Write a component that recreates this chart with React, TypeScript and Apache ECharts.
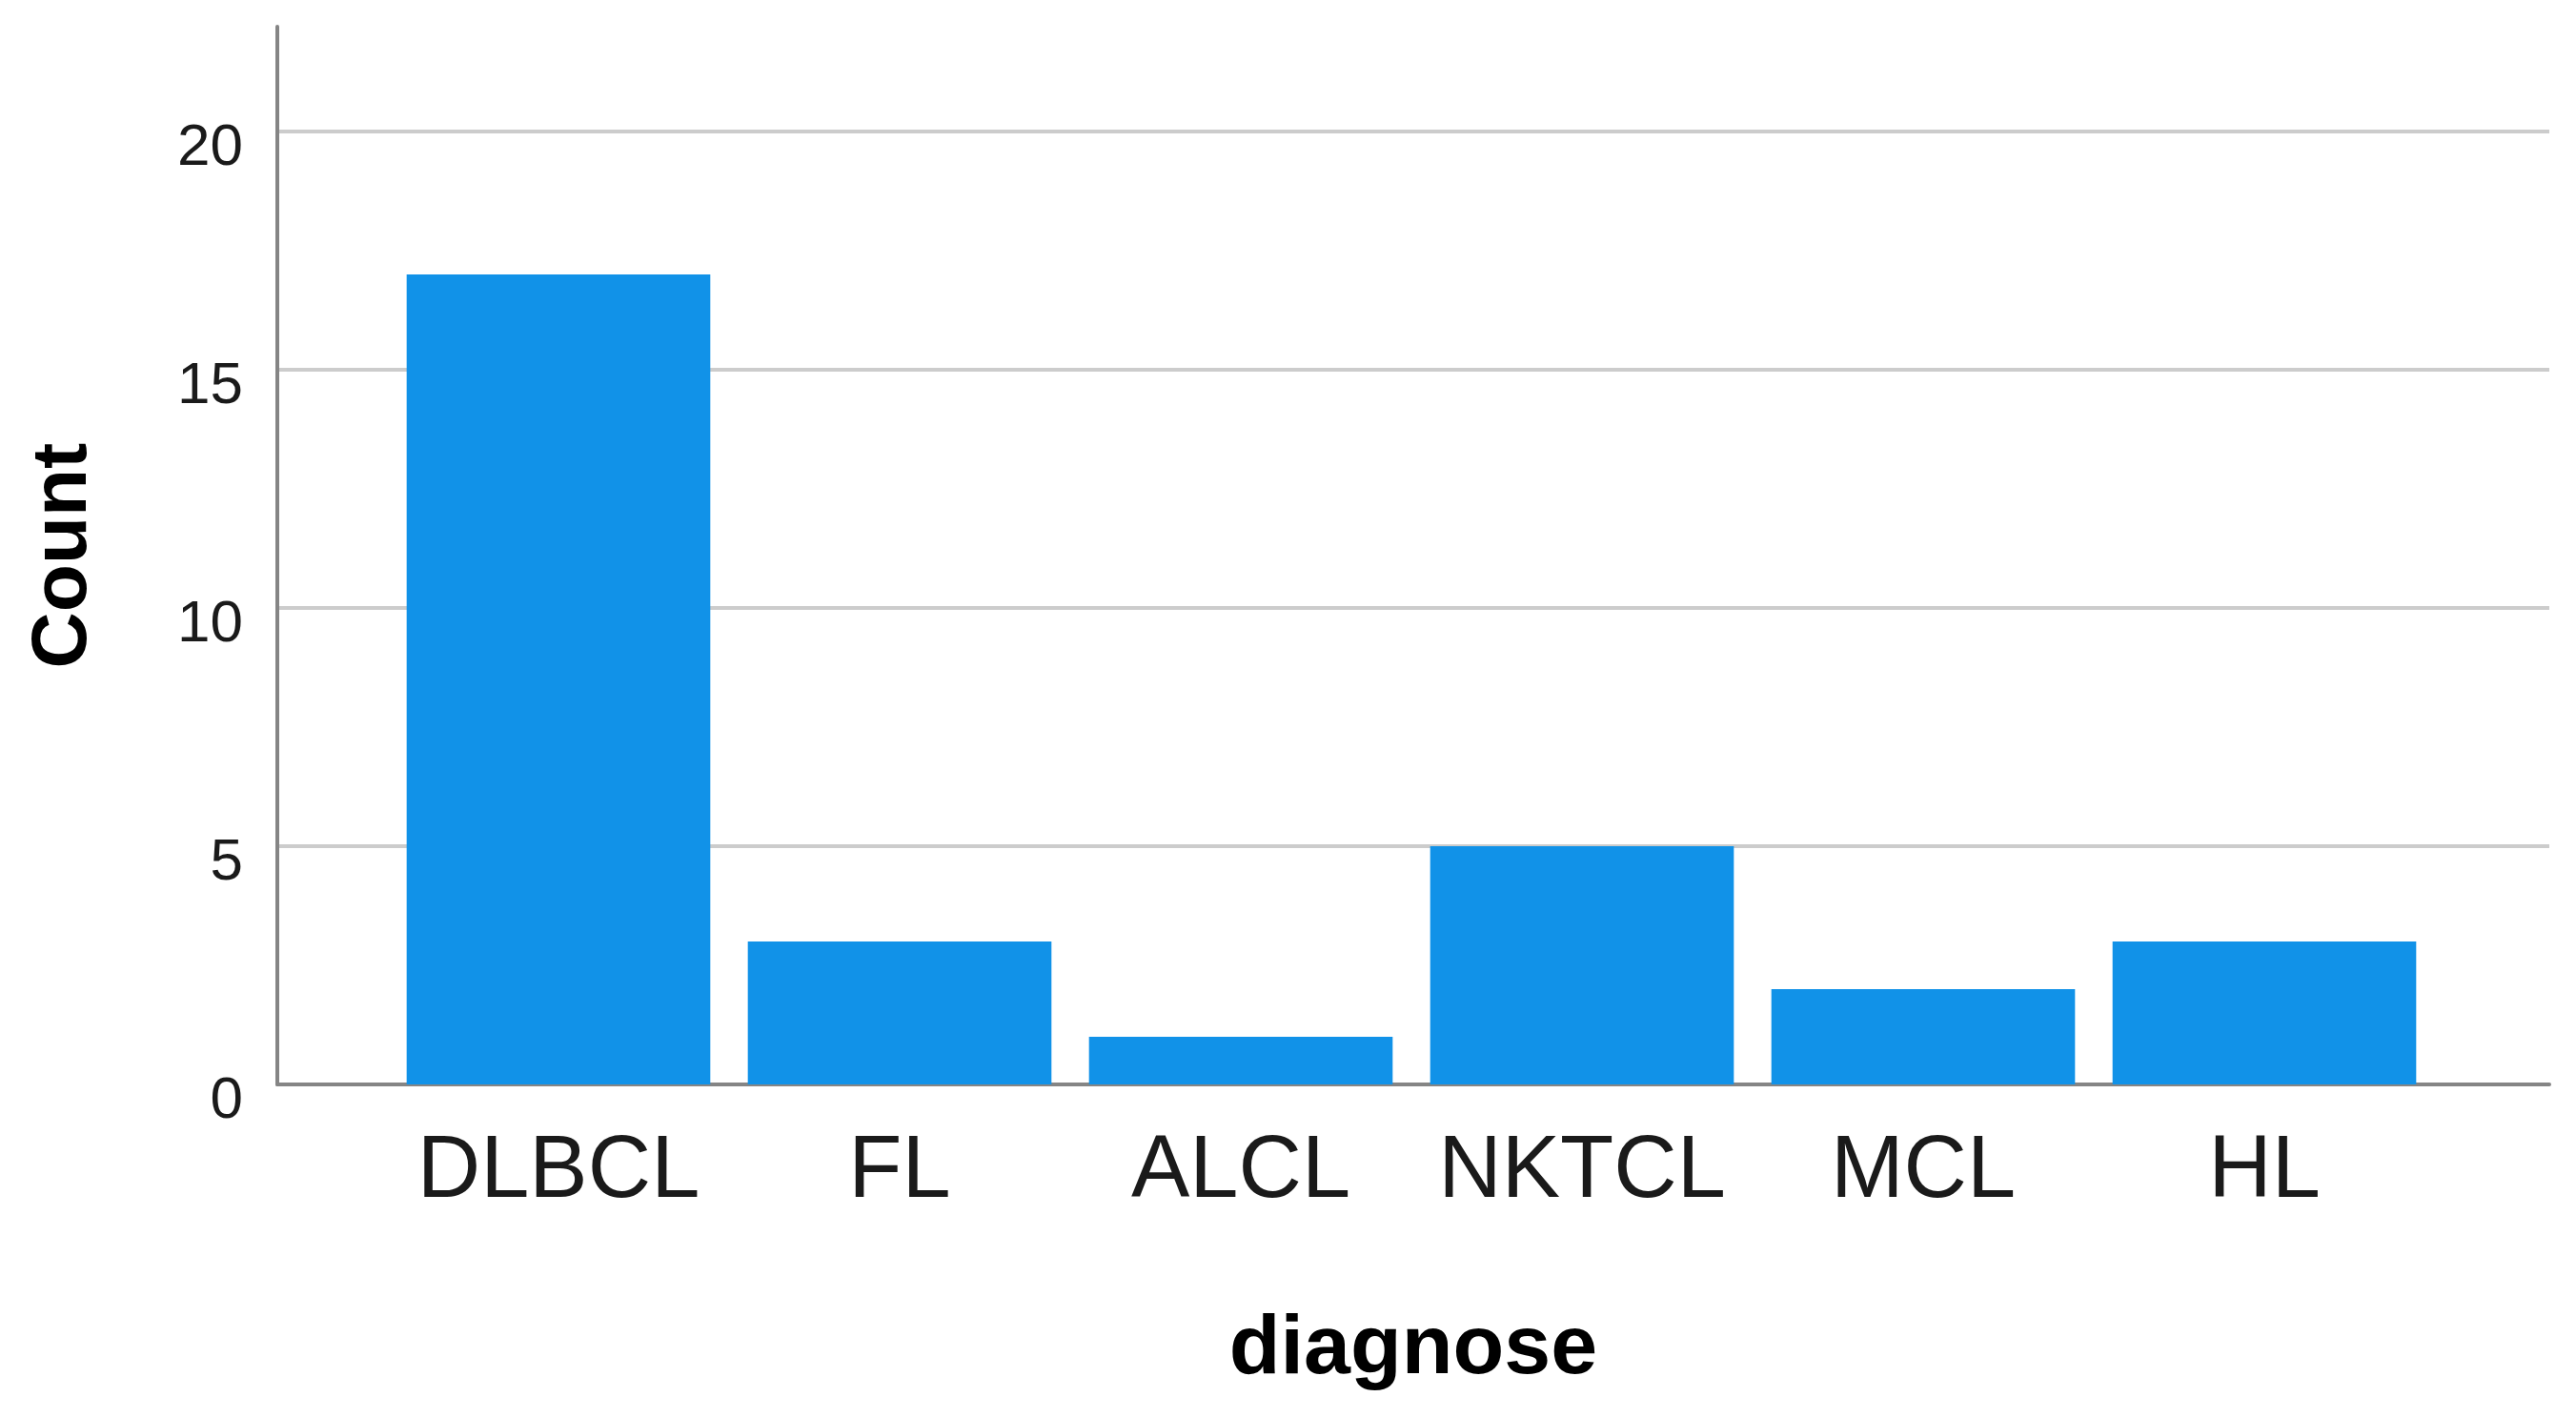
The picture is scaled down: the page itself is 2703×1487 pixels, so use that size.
import React, { useEffect, useRef } from "react";
import * as echarts from "echarts";

const categories = ["DLBCL", "FL", "ALCL", "NKTCL", "MCL", "HL"];
const counts = [17, 3, 1, 5, 2, 3];
const yMax = 22.2;
const yInterval = 5;
const xAxisTitle = "diagnose";
const yAxisTitle = "Count";

const FONT = "'Liberation Sans', Arial, sans-serif";

export default function App() {
  const ref = useRef<HTMLDivElement>(null);
  useEffect(() => {
    if (!ref.current) return;
    const chart = echarts.init(ref.current, undefined, { renderer: "svg" });
    chart.setOption({
      animation: false,
      backgroundColor: "#ffffff",
      grid: [
        { left: 291, right: 28, top: 28, bottom: 349, containLabel: false },
        { left: 407, right: 148, top: 28, bottom: 349, containLabel: false },
      ],
      xAxis: [
        {
          type: "category",
          gridIndex: 0,
          data: categories,
          axisLine: { show: true, lineStyle: { color: "#858585", width: 4 } },
          axisTick: { show: false },
          axisLabel: { show: false },
          splitLine: { show: false },
          name: xAxisTitle,
          nameLocation: "middle",
          nameGap: 228,
          nameTextStyle: {
            fontFamily: FONT,
            fontSize: 88,
            fontWeight: "bold",
            color: "#000000",
            lineHeight: 88,
          },
        },
        {
          type: "category",
          gridIndex: 1,
          data: categories,
          axisLine: { show: false },
          axisTick: { show: false },
          axisLabel: {
            show: true,
            interval: 0,
            margin: 40,
            fontFamily: FONT,
            fontSize: 92,
            lineHeight: 92,
            color: "#1a1a1a",
          },
          splitLine: { show: false },
        },
      ],
      yAxis: [
        {
          type: "value",
          gridIndex: 0,
          min: 0,
          max: yMax,
          interval: yInterval,
          axisLine: { show: true, lineStyle: { color: "#858585", width: 4 } },
          axisTick: { show: false },
          axisLabel: {
            show: true,
            showMaxLabel: false,
            margin: 36,
            fontFamily: FONT,
            fontSize: 62,
            lineHeight: 26,
            verticalAlign: "top",
            color: "#1a1a1a",
          },
          splitLine: {
            show: true,
            showMinLine: false,
            showMaxLine: false,
            lineStyle: { color: "#cccccc", width: 4 },
          },
          name: yAxisTitle,
          nameLocation: "middle",
          nameRotate: 90,
          nameGap: 189,
          nameTextStyle: {
            fontFamily: FONT,
            fontSize: 82,
            fontWeight: "bold",
            color: "#000000",
            lineHeight: 82,
          },
        },
        {
          type: "value",
          gridIndex: 1,
          min: 0,
          max: yMax,
          show: false,
          splitLine: { show: false },
        },
      ],
      series: [
        {
          type: "bar",
          xAxisIndex: 1,
          yAxisIndex: 1,
          data: counts,
          barCategoryGap: "11%",
          itemStyle: { color: "#1192e8" },
          z: 3,
        },
      ],
    });
    return () => chart.dispose();
  }, []);
  return (
    <div
      ref={ref}
      style={{ position: "absolute", left: 0, top: 0, width: 2703, height: 1487 }}
    />
  );
}
